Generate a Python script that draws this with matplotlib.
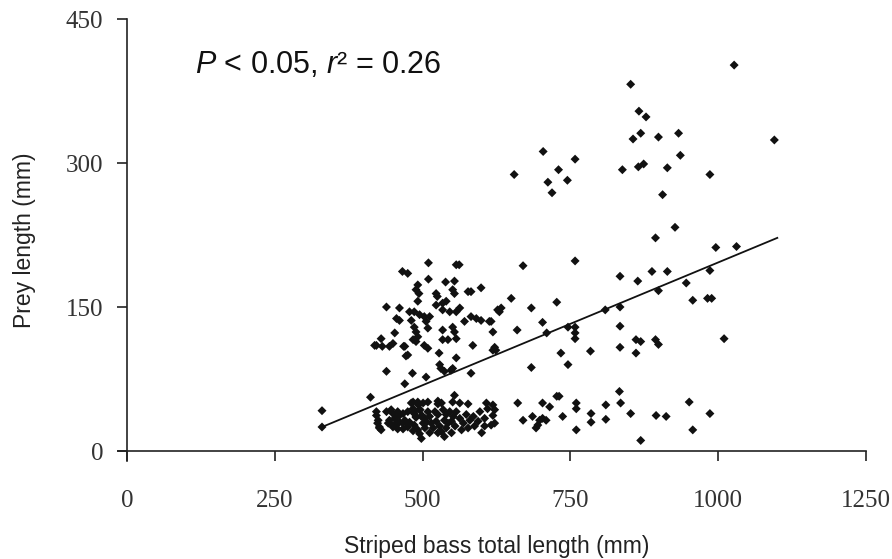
import matplotlib
matplotlib.use("Agg")
import matplotlib.pyplot as plt

# ---- data ----
bass_length = [
    # upper-left cluster
    412, 439, 439, 470, 472, 468, 453, 419, 430, 432, 444, 466, 475, 510, 557, 562,
    510, 539, 554, 492, 489, 494, 523, 525, 551, 554, 577, 582, 599, 492, 523, 534,
    540, 461, 478, 486, 495, 503, 512, 456, 461, 481, 486, 489, 492, 506, 509, 534,
    546, 557, 563, 534, 551, 554, 557, 534, 543, 571, 582, 591, 599, 616, 619, 627,
    624, 585, 484, 489, 503, 528, 557, 529, 531, 551, 483, 506, 582, 422, 450, 470,
    475, 509, 537, 548, 619,
    # middle / right
    633, 630, 650, 670, 758, 684, 727, 613, 703, 660, 710, 746, 758, 758, 758, 734,
    746, 684, 784, 809, 834, 834, 834, 861, 869, 861, 894, 899, 834, 864, 888, 914,
    899, 946, 957, 982, 989, 986, 1010, 996, 1031, 894, 927, 906, 622,
    # high prey values
    1027, 852, 866, 878, 869, 856, 899, 933, 936, 1095, 655, 704, 758, 730, 712, 745,
    719, 838, 865, 874, 914, 986,
    # lower cluster
    330, 330, 422, 422, 424, 427, 439, 447, 450, 458, 461, 467, 475, 442, 450, 458,
    467, 472, 481, 484, 486, 489, 493, 496, 499, 504, 507, 495, 484, 492, 501, 509,
    526, 526, 532, 554, 551, 563, 577, 608, 610, 425, 427, 430, 444, 453, 461, 470,
    478, 450, 458, 467, 475, 484, 498, 486, 489, 486, 492, 495, 498, 501, 504, 509,
    512, 515, 518, 512, 521, 526, 523, 529, 532, 535, 540, 537, 543, 540, 546, 552,
    549, 555, 549, 557, 563, 569, 566, 574, 580, 577, 586, 594, 588, 597, 605, 605,
    600, 526, 537,
    619, 622, 619, 622, 616, 661, 670, 686, 703, 715, 698, 703, 709, 695, 692, 727,
    731, 737, 760, 760, 760, 785, 785, 810, 810, 835, 833, 852, 895, 912, 869, 951,
    986, 957,
]
prey_length = [
    # upper-left cluster
    56, 150, 83, 70, 99, 109, 123, 110, 117, 109, 109, 187, 185, 196, 194, 194,
    179, 176, 177, 173, 168, 164, 164, 161, 168, 164, 166, 166, 170, 156, 152, 154,
    156, 149, 145, 145, 142, 140, 140, 138, 136, 136, 129, 124, 119, 135, 128, 147,
    145, 145, 149, 126, 129, 124, 117, 116, 116, 135, 140, 138, 136, 135, 124, 147,
    105, 110, 116, 114, 110, 102, 97, 90, 86, 86, 81, 77, 81, 110, 112, 109,
    100, 107, 83, 84, 105,
    # middle / right
    149, 145, 159, 193, 198, 149, 155, 135, 134, 126, 123, 129, 129, 123, 117, 102,
    90, 87, 104, 147, 150, 130, 108, 116, 114, 102, 116, 111, 182, 177, 187, 187,
    167, 175, 157, 159, 159, 188, 117, 212, 213, 222, 233, 267, 108,
    # high prey values
    402, 382, 354, 348, 331, 325, 327, 331, 308, 324, 288, 312, 304, 293, 280, 282,
    269, 293, 296, 299, 295, 288,
    # lower cluster
    42, 25, 41, 37, 29, 24, 41, 43, 39, 41, 37, 39, 41, 29, 27, 29,
    29, 30, 50, 44, 39, 36, 48, 43, 37, 34, 30, 18, 51, 51, 50, 51,
    52, 49, 50, 58, 51, 50, 49, 50, 44, 32, 25, 22, 32, 34, 30, 32,
    30, 25, 23, 23, 25, 21, 13, 41, 35, 27, 22, 43, 36, 29, 24, 41,
    36, 29, 24, 19, 41, 38, 31, 26, 20, 43, 38, 32, 29, 24, 41, 36,
    31, 26, 19, 41, 34, 29, 22, 38, 32, 24, 36, 31, 26, 41, 34, 26,
    19, 19, 15,
    48, 43, 37, 29, 27, 50, 32, 36, 50, 46, 32, 34, 32, 27, 24, 57,
    57, 36, 50, 44, 22, 39, 30, 48, 33, 50, 62, 39, 37, 36, 11, 51,
    39, 22,
]

fit_x = [330, 1100]
fit_y = [25, 222]

x_ticks = [0, 250, 500, 750, 1000, 1250]
y_ticks = [0, 150, 300, 450]

annotation = "$P$ < 0.05, $r$² = 0.26"
x_label = "Striped bass total length (mm)"
y_label = "Prey length (mm)"

# ---- style ----
plt.rcParams["mathtext.fontset"] = "custom"
plt.rcParams["mathtext.rm"] = "Liberation Sans"
plt.rcParams["mathtext.it"] = "Liberation Sans:italic"

fig = plt.figure(figsize=(8.92, 5.59), dpi=100)
ax = fig.add_axes([118 / 892, 1 - 460.6 / 559, (866 - 118) / 892, (460.6 - 19) / 559])

ax.scatter(bass_length, prey_length, marker="D", s=21, color="#111111",
           edgecolors="none", zorder=3)
ax.plot(fit_x, fit_y, color="#111111", lw=1.3, zorder=2)

ax.set_xlim(-15, 1250)
ax.set_ylim(-10, 450)
ax.spines["left"].set_position(("data", 0))
ax.spines["bottom"].set_position(("data", 0))
ax.spines["top"].set_visible(False)
ax.spines["right"].set_visible(False)
for sp in ("left", "bottom"):
    ax.spines[sp].set_linewidth(1.2)
    ax.spines[sp].set_color("#222222")

ax.set_xticks(x_ticks)
ax.set_yticks(y_ticks)
ax.set_xticklabels([str(t) for t in x_ticks], fontfamily="Liberation Serif", fontsize=18)
ax.set_yticklabels([str(t) for t in y_ticks], fontfamily="Liberation Serif", fontsize=18)
ax.tick_params(axis="x", direction="out", length=7, width=1.2, pad=21, colors="#222222")
ax.tick_params(axis="y", direction="out", length=7, width=1.2, pad=10, colors="#222222")
for lab in ax.get_xticklabels() + ax.get_yticklabels():
    lab.set_color("#333333")

fig.text(497 / 892, 1 - 547 / 559, x_label, ha="center", va="center",
         fontfamily="Liberation Sans", fontsize=16.5, color="#222222")
fig.text(25 / 892, 1 - 240 / 559, y_label, ha="center", va="center", rotation=90,
         fontfamily="Liberation Sans", fontsize=16.5, color="#222222")

fig.text(195 / 892, 1 - 65 / 559, annotation, ha="left", va="center",
         fontfamily="Liberation Sans", fontsize=22, color="#111111")

fig.savefig("out.png", dpi=100, facecolor="white")
